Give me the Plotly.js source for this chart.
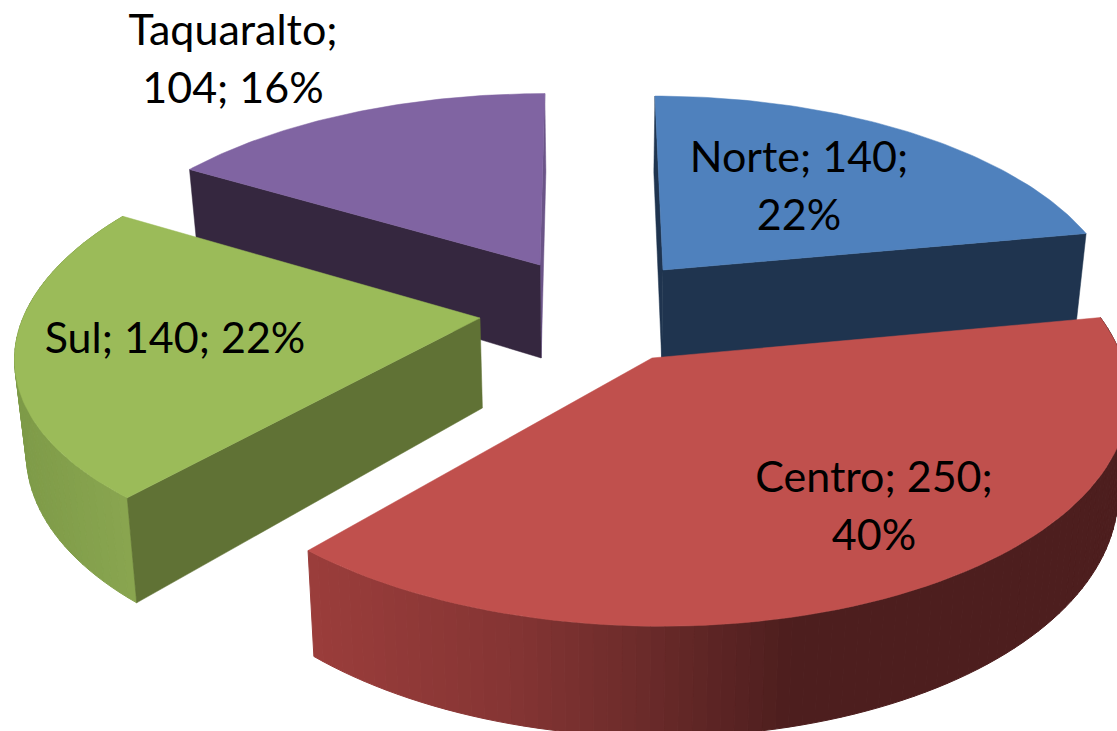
<!DOCTYPE html>
<html>
<head>
<meta charset="utf-8">
<script src="https://cdn.plot.ly/plotly-3.0.1.min.js"></script>
<style>html,body{margin:0;padding:0;background:#fff;overflow:hidden}#c{width:1117px;height:731px}</style>
</head>
<body>
<div id="c"></div>
<script>
// Data
const categories = ["Norte", "Centro", "Sul", "Taquaralto"];
const values = [140, 250, 140, 104];
const percents = [22, 40, 22, 16];
const labelBreakAfter = [2, 2, 3, 1];

// Styles and projection settings per slice
const topColors = ["#4f81bd", "#c0504d", "#9bbb59", "#8064a2"];
const startFaceColors = ["#1f344f", null, "#607235", "#35273f"];
const endFaceColors = ["#1f344f", null, null, "#6b5488"];
const apexX = [663, 652, 480, 540];
const apexY = [270, 358, 318, 265];
const radiusX = [447, 470, 457, 452];
const radiusY = [207, 228, 213, 204];
const perspectiveX = [0.19, 0.15, 0.19, 0.19];
const perspectiveY = [0.19, 0.15, 0.15, 0.19];
const lean = [0.8, 1, 0, 0.5];
const depth = [91, 94, 90, 93];
const rimStops = [null,
  [[308, [155, 61, 59]], [500, [134, 53, 52]], [640, [108, 43, 42]], [790, [77, 30, 30]], [1117, [77, 30, 30]]],
  [[15, [126, 155, 72]], [135, [138, 166, 80]]],
  null];
const drawOrder = [3, 0, 2, 1];
const labelX = [799, 874, 175, 233];
const labelY = [161, 481, 342, 34];
const labelStep = 58;
const labelSize = 43;
const vanishX = 600, bottomScale = 0.98;

const total = values.reduce((a, b) => a + b, 0);
const startAngle = [];
values.reduce((acc, v, i) => { startAngle[i] = acc; return acc + v / total * 360; }, 0);

function rimPoint(i, deg) {
  const r = deg * Math.PI / 180, u = Math.sin(r), v = Math.cos(r);
  const p = 1 / (1 + perspectiveX[i] * v);
  const q = 1 / (1 + perspectiveY[i] * v);
  return {
    x: apexX[i] + (apexX[i] - vanishX) * (p - 1) * lean[i] + radiusX[i] * u * p,
    y: apexY[i] - radiusY[i] * v * q,
    p
  };
}
function down(i, pt, p) {
  return { x: vanishX + (pt.x - vanishX) * bottomScale, y: pt.y + depth[i] * p };
}
const apex = i => ({ x: apexX[i], y: apexY[i] });
function poly(pts, color, lw) {
  return {
    type: "scatter", mode: "lines", fill: "toself", fillcolor: color,
    x: pts.map(q => q.x).concat(pts[0].x), y: pts.map(q => q.y).concat(pts[0].y),
    line: { color, width: lw === undefined ? 0.5 : lw }, hoverinfo: "skip", showlegend: false
  };
}
function shade(stops, x) {
  if (x <= stops[0][0]) return stops[0][1];
  for (let k = 1; k < stops.length; k++) {
    if (x <= stops[k][0]) {
      const a = stops[k - 1], b = stops[k], t = (x - a[0]) / (b[0] - a[0]);
      return a[1].map((c, j) => c + (b[1][j] - c) * t);
    }
  }
  return stops[stops.length - 1][1];
}
const rgb = c => `rgb(${c.map(n => Math.round(n)).join(",")})`;

const traces = [];
drawOrder.forEach(i => {
  const a0 = startAngle[i], sweep = values[i] / total * 360, a1 = a0 + sweep;
  const ap = apex(i), apBottom = down(i, ap, 1);
  const face = (deg, color) => {
    const t = rimPoint(i, deg);
    traces.push(poly([ap, t, down(i, t, t.p), apBottom], color));
  };
  if (rimStops[i]) {
    const n = Math.round(sweep / 1.5);
    for (let s = 0; s < n; s++) {
      const d0 = a0 + sweep * s / n, d1 = a0 + sweep * (s + 1) / n;
      const t0 = rimPoint(i, d0), t1 = rimPoint(i, d1);
      const col = rgb(shade(rimStops[i], (t0.x + t1.x) / 2));
      traces.push(poly([t0, t1, down(i, t1, t1.p), down(i, t0, t0.p)], col, 1));
    }
  }
  if (endFaceColors[i]) face(a1, endFaceColors[i]);
  if (startFaceColors[i]) face(a0, startFaceColors[i]);
  const pts = [ap];
  for (let s = 0; s <= 80; s++) pts.push(rimPoint(i, a0 + sweep * s / 80));
  traces.push(poly(pts, topColors[i]));
});

categories.forEach((c, i) => {
  const tokens = [c, values[i], percents[i] + "%"];
  const brk = labelBreakAfter[i];
  const lines = [tokens.slice(0, brk).join("; ") + (brk < 3 ? ";" : "")];
  if (brk < 3) lines.push(tokens.slice(brk).join("; "));
  traces.push({
    type: "scatter", mode: "text", cliponaxis: false,
    x: lines.map(() => labelX[i]), y: lines.map((_, k) => labelY[i] + k * labelStep),
    text: lines, textposition: "middle center",
    textfont: { family: "Lato, 'Open Sans', sans-serif", size: labelSize, color: "#000" },
    hoverinfo: "skip", showlegend: false
  });
});

Plotly.newPlot("c", traces, {
  width: 1117, height: 731,
  margin: { l: 0, r: 0, t: 0, b: 0, pad: 0 },
  paper_bgcolor: "#fff", plot_bgcolor: "#fff", showlegend: false,
  xaxis: { range: [0, 1117], visible: false, fixedrange: true },
  yaxis: { range: [731, 0], visible: false, fixedrange: true }
}, { displayModeBar: false, staticPlot: true });
</script>
</body>
</html>
